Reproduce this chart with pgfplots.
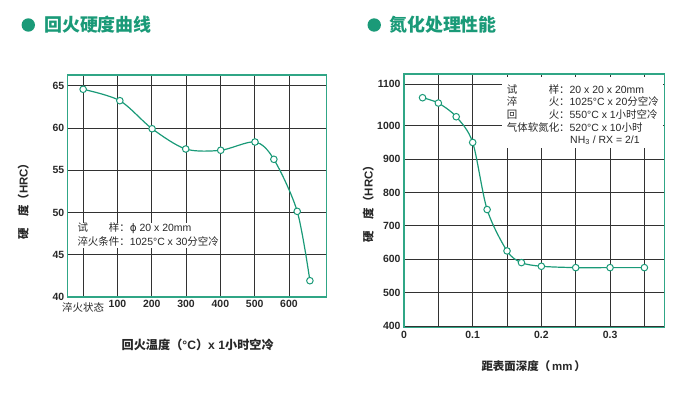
\documentclass[border=0pt]{standalone}
\usepackage{pgfplots}
\pgfplotsset{compat=1.18}
\usepackage{fontspec}
\setmainfont{Liberation Sans}
\newfontfamily\cjk{Noto Sans CJK SC}
\newfontfamily\dejavu{DejaVu Sans}
\definecolor{mygreen}{RGB}{26,154,120}
\definecolor{framegreen}{RGB}{48,166,134}
\definecolor{txt}{RGB}{40,40,40}
\definecolor{gridc}{RGB}{50,50,50}
\begin{document}
\begin{tikzpicture}[x=1bp,y=1bp]
\path[use as bounding box] (0,0) rectangle (691,393);
% titles
\fill[mygreen] (28.3,368) circle (6.7);
\node[anchor=base west, inner sep=0, text=mygreen, font=\cjk\bfseries\fontsize{18}{18}\selectfont] at (44,361.5) {回火硬度曲线};
\fill[mygreen] (374.2,368) circle (6.7);
\node[anchor=base west, inner sep=0, text=mygreen, font=\cjk\bfseries\fontsize{18}{18}\selectfont] at (389,361.5) {氮化处理性能};

\pgfplotsset{every axis/.append style={
  scale only axis, anchor=south west,
  axis line style={framegreen, line width=1.3bp},
  grid=major, major grid style={gridc, line width=0.8bp},
  tick style={draw=none},
  tick label style={text=txt, font=\bfseries\fontsize{10.5}{10.5}\selectfont},
  /pgf/number format/assume math mode=true,
}}
\begin{axis}[at={(67.7bp,96bp)}, width=259bp, height=222bp,
  xmin=-45, xmax=710, ymin=40, ymax=66.28,
  xtick={0,100,200,300,400,500,600},
  xticklabels={{\cjk\mdseries\rule{0pt}{11.4bp}淬火状态},100,200,300,400,500,600},
  ytick={40,45,50,55,60,65},
  ]
\addplot[mygreen, line width=1.2bp, smooth, mark=*, mark options={fill=white, draw=mygreen, line width=1bp}, mark size=3.3pt] coordinates {
(0,64.59) (107,63.24) (201,59.92) (299,57.52) (401,57.37) (501,58.35) (556,56.30) (624,50.14) (661,41.93)
};
\end{axis}

\begin{axis}[at={(404bp,65.3bp)}, width=260.3bp, height=253.7bp,
  xmin=0, xmax=0.379, ymin=395, ymax=1155,
  xtick={0,0.05,0.1,0.15,0.2,0.25,0.3,0.35},
  xticklabels={0,,0.1,,0.2,,0.3,},
  ytick={400,500,600,700,800,900,1000,1124},
  yticklabels={400,500,600,700,800,900,1000,1100},
  ]
\addplot[mygreen, line width=1.2bp, smooth, mark=*, mark options={fill=white, draw=mygreen, line width=1bp}, mark size=3.3pt] coordinates {
(0.027,1084) (0.05,1068) (0.076,1027) (0.1,950) (0.121,749) (0.15,625) (0.171,590) (0.2,579) (0.25,575) (0.3,575) (0.35,575)
};
\end{axis}

% left annotation
\fill[white] (73,144.7) rectangle (218,170.3);
\begin{scope}[every node/.style={anchor=base west, inner sep=0, text=txt, font=\fontsize{10.5}{10.5}\selectfont}]
\node at (77.3,161.2) {{\cjk\makebox[4em][l]{试\hfill 样}：}{\dejavu ϕ} 20 x 20mm};
\node at (77.3,147.5) {{\cjk 淬火条件：}1025°C x 30{\cjk 分空冷}};
\end{scope}

% right annotation
\fill[white] (502,244.7) rectangle (663.3,316);
\begin{scope}[every node/.style={anchor=base west, inner sep=0, text=txt, font=\fontsize{10.5}{10.5}\selectfont}]
\node at (506.7,299.9) {{\cjk\makebox[5em][l]{试\hfill 样}：}20 x 20 x 20mm};
\node at (506.7,287.2) {{\cjk\makebox[5em][l]{淬\hfill 火}：}1025°C x 20{\cjk 分空冷}};
\node at (506.7,274.5) {{\cjk\makebox[5em][l]{回\hfill 火}：}550°C x 1{\cjk 小时空冷}};
\node at (506.7,261.9) {{\cjk 气体软氮化：}520°C x 10{\cjk 小时}};
\node at (570,249.9) {NH\textsubscript{3} / RX = 2/1};
\end{scope}

% axis labels
\begin{scope}[every node/.style={text=txt, inner sep=0, font=\bfseries\fontsize{11.5}{11.5}\selectfont}]
\node[rotate=90] at (23.3,194.3) {{\cjk 硬　度（}HRC{\cjk ）}};
\node[rotate=90] at (368.3,192) {{\cjk 硬　度（}HRC{\cjk ）}};
\node[font=\bfseries\fontsize{12.2}{12.2}\selectfont] at (197.7,48) {{\cjk 回火温度（}°C{\cjk ）}x 1{\cjk 小时空冷}};
\node at (533.7,27.3) {{\cjk 距表面深度（}\,mm\,{\cjk ）}};
\end{scope}
\end{tikzpicture}
\end{document}
